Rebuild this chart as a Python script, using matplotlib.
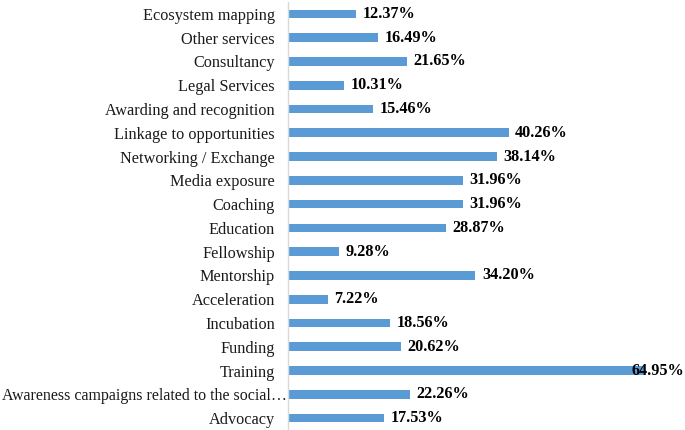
import matplotlib
matplotlib.use("Agg")
import matplotlib.pyplot as plt
from matplotlib.transforms import ScaledTranslation

categories = [
    "Ecosystem mapping", "Other services", "Consultancy", "Legal Services",
    "Awarding and recognition", "Linkage to opportunities", "Networking / Exchange",
    "Media exposure", "Coaching", "Education", "Fellowship", "Mentorship",
    "Acceleration", "Incubation", "Funding", "Training",
    "Awareness campaigns related to the social\u2026", "Advocacy",
]
values = [12.37, 16.49, 21.65, 10.31, 15.46, 40.26, 38.14, 31.96, 31.96, 28.87,
          9.28, 34.20, 7.22, 18.56, 20.62, 64.95, 22.26, 17.53]
value_labels = [f"{v:.2f}%" for v in values]

plt.rcParams['font.family'] = ['Liberation Serif', 'DejaVu Serif']

W, H = 685, 430
fig = plt.figure(figsize=(W / 100, H / 100), dpi=100)
left = 288 / W
ax = fig.add_axes([left, 0.0, 1 - left, 428 / H])

n = len(categories)
ypos = list(range(n))
ax.barh(ypos, values, height=0.36, color="#5B9BD5")
ax.set_ylim(n - 0.5, -0.5)
xmax = (W - 288) / 5.48
ax.set_xlim(0, xmax)

ax.set_yticks(ypos)
ax.set_yticklabels(categories, fontsize=11.7, color="#1a1a1a")
ax.tick_params(axis='y', length=0, pad=9.5)
ax.set_xticks([])
for s in ["top", "right", "bottom"]:
    ax.spines[s].set_visible(False)
ax.spines["left"].set_color("#d9d9d9")
ax.spines["left"].set_linewidth(1.0)

# the long, truncated label sits closer to the axis, as in the reference
long_lbl = ax.get_yticklabels()[16]
long_lbl.set_fontsize(11.5)
long_lbl.set_transform(long_lbl.get_transform()
                       + ScaledTranslation(12 / 100, 0, fig.dpi_scale_trans))

for y, v, lab in zip(ypos, values, value_labels):
    if v + 1.2 + 10 > xmax:
        ax.text(xmax - 0.1, y, lab, va="center", ha="right", fontsize=11.7,
                fontweight="bold", color="black", clip_on=False)
    else:
        ax.text(v + 1.2, y, lab, va="center", ha="left", fontsize=11.7,
                fontweight="bold", color="black")

fig.savefig("out.png", dpi=100)
